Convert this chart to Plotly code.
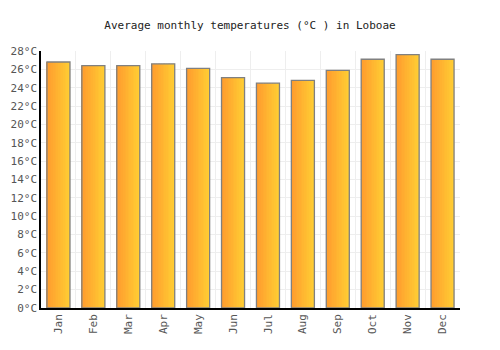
import plotly.graph_objects as go

months = ["Jan", "Feb", "Mar", "Apr", "May", "Jun", "Jul", "Aug", "Sep", "Oct", "Nov", "Dec"]
temps = [26.8, 26.4, 26.4, 26.6, 26.1, 25.1, 24.5, 24.8, 25.9, 27.1, 27.6, 27.1]
y_ticks = list(range(0, 29, 2))
y_labels = [f"{v}°C" for v in y_ticks]

x = list(range(len(months)))
bar_w = 0.66
n_strips = 14
c0 = (255, 156, 46)
c1 = (255, 204, 51)

fig = go.Figure()
for i in range(n_strips):
    t = i / (n_strips - 1)
    col = tuple(round(a + (b - a) * t) for a, b in zip(c0, c1))
    fig.add_trace(go.Bar(
        x=x, y=temps, width=bar_w / n_strips * 1.05,
        offset=-bar_w / 2 + i * bar_w / n_strips,
        marker=dict(color=f"rgb{col}", line=dict(width=0)),
        hoverinfo="skip", showlegend=False,
    ))
fig.add_trace(go.Bar(
    x=x, y=temps, width=bar_w, offset=-bar_w / 2,
    marker=dict(color="rgba(0,0,0,0)", line=dict(color="#808080", width=1.3)),
    showlegend=False,
))

font = "DejaVu Sans Mono, monospace"
fig.update_layout(
    barmode="overlay",
    width=500, height=350,
    margin=dict(l=41, r=40, t=51, b=42),
    paper_bgcolor="white", plot_bgcolor="white",
    title=dict(text="Average monthly temperatures (°C ) in Loboae", x=0.5, xanchor="center",
               y=1 - 25 / 350, yanchor="middle", font=dict(family=font, size=11, color="#222")),
    font=dict(family=font, size=11, color="#555"),
    xaxis=dict(range=[-0.5, 11.5], tickvals=x, ticktext=months, tickangle=-90,
               showgrid=False, showline=True, linecolor="black", linewidth=1.5,
               ticks="", zeroline=False,
               minor=dict(tick0=0.5, dtick=1, showgrid=True, gridcolor="#eeeeee", gridwidth=1, ticks="")),
    yaxis=dict(range=[0, 28], tickvals=y_ticks, ticktext=y_labels, showgrid=True,
               gridcolor="#eeeeee", gridwidth=1, showline=True, linecolor="black", linewidth=1.5,
               ticks="", zeroline=False),
)
fig.write_html("out.html")
